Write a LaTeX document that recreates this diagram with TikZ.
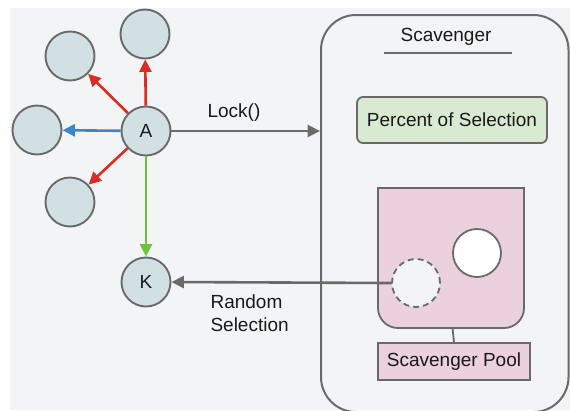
\documentclass[tikz,border=0pt]{standalone}
\usepackage{fontspec}
\setmainfont{Liberation Sans}
\usetikzlibrary{arrows.meta}
\definecolor{bg}{HTML}{F3F4F6}
\definecolor{edge}{HTML}{6A6A6A}
\definecolor{ballfill}{HTML}{D0E0E3}
\definecolor{redline}{HTML}{DD2A22}
\definecolor{blueline}{HTML}{3D85C6}
\definecolor{greenline}{HTML}{6CC23B}
\definecolor{greenfill}{HTML}{D9EAD3}
\definecolor{pinkfill}{HTML}{EAD1DC}
\tikzset{
  txt/.style={font=\fontsize{19}{23}\selectfont, text=black!90},
  ball/.style={circle, draw=edge, line width=1.9pt, fill=ballfill, minimum size=49, inner sep=0pt, txt},
  link/.style={line width=2.6pt, -{Triangle[length=12.5pt,width=12pt]}},
  container/.style={draw=edge, line width=2pt, rounded corners=35, minimum width=247.5, minimum height=397, inner sep=0pt},
  greenbox/.style={draw=edge, line width=1.8pt, fill=greenfill, rounded corners=6, minimum width=190, minimum height=46, inner sep=0pt, txt},
  poolbox/.style={draw=edge, line width=1.8pt, fill=pinkfill, minimum width=152, minimum height=37, inner sep=0pt, txt},
  slot/.style={circle, draw=edge, line width=1.8pt, minimum size=48, inner sep=0pt}
}
\begin{document}
\begin{tikzpicture}[x=1pt,y=-1pt]
  \useasboundingbox (0,0) rectangle (570,410);
  \fill[bg] (10,8) rectangle (570,410);

  % scavenger container, running past the right and bottom edges
  \node[container] (scav) at (444.75,213.5) {};
  \node[txt] (scavtitle) at (446,37) {Scavenger};
  \draw[edge, line width=1.5pt] (384,53) -- (512,53);

  \node[greenbox] (percent) at (452,120) {Percent of Selection};

  % scavenger pool bucket: square top, rounded bottom
  \draw[edge, line width=1.8pt, fill=pinkfill]
    (378,188) -- (524,188) -- (524,308)
    arc[start angle=0, end angle=90, radius=20] -- (398,328)
    arc[start angle=90, end angle=180, radius=20] -- cycle;
  \coordinate (bucket) at (452.5,328);
  \node[slot, fill=white] (full) at (477,253) {};
  \node[slot, fill=bg, dashed, dash pattern=on 6pt off 4pt] (empty) at (416,283) {};

  \node[poolbox] (pool) at (454,361.5) {Scavenger Pool};
  \draw[edge, line width=1.8pt] (bucket) -- (pool.north);

  % objects
  \node[ball] (A) at (146,131) {A};
  \node[ball] (up) at (145,34) {};
  \node[ball] (ul) at (70,56) {};
  \node[ball] (left) at (37,130) {};
  \node[ball] (dl) at (70,202) {};
  \node[ball] (K) at (146,282) {K};

  \draw[link, redline] (A) -- (up);
  \draw[link, redline] (A) -- (ul);
  \draw[link, blueline] (A) -- (left);
  \draw[link, redline] (A) -- (dl);
  \draw[link, greenline] (A) -- (K);

  \draw[link, edge] (A.east) -- (A.east -| scav.west);
  \node[txt] (lock) at (234,113) {Lock()};

  \draw[link, edge] (empty.west) -- (K.east);
  \node[txt, anchor=west, align=left] (random) at (207,313) {Random\\Selection};
\end{tikzpicture}
\end{document}
